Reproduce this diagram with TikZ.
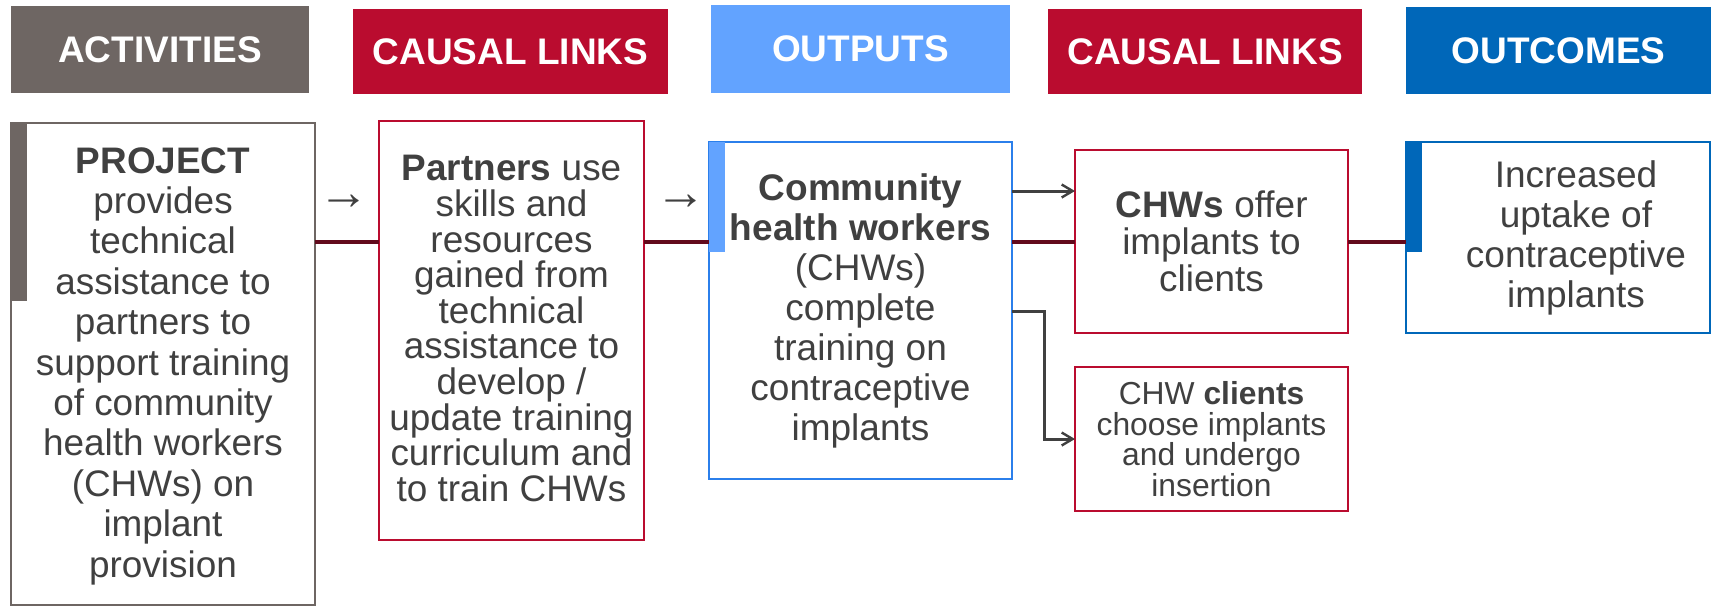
\documentclass[tikz,border=0pt]{standalone}
\usepackage{fontspec}
\setmainfont{Liberation Sans}
\usetikzlibrary{arrows.meta}
\definecolor{actgray}{HTML}{6E6663}
\definecolor{linkred}{HTML}{BA0C2F}
\definecolor{outblue}{HTML}{62A3FF}
\definecolor{outcblue}{HTML}{0067B9}
\definecolor{bordblue}{HTML}{2B7FEB}
\definecolor{chainred}{HTML}{620A1C}
\definecolor{ink}{HTML}{404040}

\begin{document}
\begin{tikzpicture}[x=1pt,y=-1pt,
  hdr/.style={anchor=north west, inner sep=0pt, outer sep=0pt, text=white,
    font=\fontsize{37}{40}\selectfont\bfseries},
  card/.style={anchor=north west, inner sep=0pt, outer sep=0pt, draw,
    line width=1.6pt, fill=white},
  txt/.style={align=center, text=ink, inner sep=0pt},
  chain/.style={draw=chainred, line width=4pt},
  flow/.style={draw=ink, line width=3pt, -{Straight Barb[length=11pt,width=13pt,line width=2.4pt]}},
  glyph/.style={text=ink, inner sep=0pt, font=\fontsize{51}{54}\selectfont}
]
\useasboundingbox (0,0) rectangle (1716,606);

% column headers
\node[hdr, fill=actgray,  minimum width=298pt, minimum height=87pt] (h1) at (11,6)    {ACTIVITIES};
\node[hdr, fill=linkred,  minimum width=315pt, minimum height=85pt] (h2) at (353,9)   {CAUSAL LINKS};
\node[hdr, fill=outblue,  minimum width=299pt, minimum height=88pt] (h3) at (711,5)   {OUTPUTS};
\node[hdr, fill=linkred,  minimum width=314pt, minimum height=85pt] (h4) at (1048,9)  {CAUSAL LINKS};
\node[hdr, fill=outcblue, minimum width=305pt, minimum height=87pt] (h5) at (1406,7)  {OUTCOMES};

% content cards
\node[card, draw=actgray,  minimum width=304pt, minimum height=482pt] (b1) at (11,123)  {};
\node[card, draw=linkred,  minimum width=265pt, minimum height=419pt] (b2) at (379,121) {};
\node[card, draw=bordblue, minimum width=303pt, minimum height=337pt] (b3) at (709,142) {};
\node[card, draw=linkred,  minimum width=273pt, minimum height=183pt] (b4) at (1075,150) {};
\node[card, draw=linkred,  minimum width=273pt, minimum height=144pt] (b5) at (1075,367) {};
\node[card, draw=outcblue, minimum width=304pt, minimum height=191pt] (b6) at (1406,142) {};

% coloured tabs on the left edge of three cards
\fill[actgray]  (b1.north west) rectangle (27,301);
\fill[outblue]  (b3.north west) rectangle (725,252);
\fill[outcblue] (b6.north west) rectangle (1422,252);

% card texts
\node[txt, font=\fontsize{36.9}{40.4}\selectfont] (t1) at ([yshift=-2pt]b1.center)
  {\textbf{PROJECT}\\provides\\technical\\assistance to\\partners to\\support training\\of community\\health workers\\(CHWs) on\\implant\\provision};
\node[txt, font=\fontsize{36.9}{35.6}\selectfont] (t2) at ([yshift=2pt]b2.center)
  {\textbf{Partners} use\\skills and\\resources\\gained from\\technical\\assistance to\\develop /\\update training\\curriculum and\\to train CHWs};
\node[txt, font=\fontsize{37}{40}\selectfont] (t3) at (b3.center)
  {\textbf{Community}\\\textbf{health workers}\\(CHWs)\\complete\\training on\\contraceptive\\implants};
\node[txt, font=\fontsize{36.9}{36.7}\selectfont] (t4) at (b4.center)
  {\textbf{CHWs} offer\\implants to\\clients};
\node[txt, font=\fontsize{31.8}{30.7}\selectfont] (t5) at (b5.center)
  {CHW \textbf{clients}\\choose implants\\and undergo\\insertion};
\node[txt, font=\fontsize{37}{40}\selectfont] (t6) at ([xshift=18pt]b6.center)
  {Increased\\uptake of\\contraceptive\\implants};

% causal chain line
\coordinate (ln) at (0,242);
\draw[chain] (b1.east |- ln) -- (b2.west |- ln);
\draw[chain] (b2.east |- ln) -- (b3.west |- ln);
\draw[chain] (b3.east |- ln) -- (b4.west |- ln);
\draw[chain] (b4.east |- ln) -- (b6.west |- ln);

% small arrow marks between the first cards
\node[glyph] (g1) at (344,202) {→};
\node[glyph] (g2) at (680.5,202) {→};

% output arrows
\coordinate (up) at (0,191);
\coordinate (lo) at (0,311);
\coordinate (bend) at (1044,0);
\draw[flow] (b3.east |- up) -- (b4.west |- up);
\draw[flow] (b3.east |- lo) -- (bend |- lo) -- (bend |- b5.west) -- (b5.west);
\end{tikzpicture}
\end{document}
